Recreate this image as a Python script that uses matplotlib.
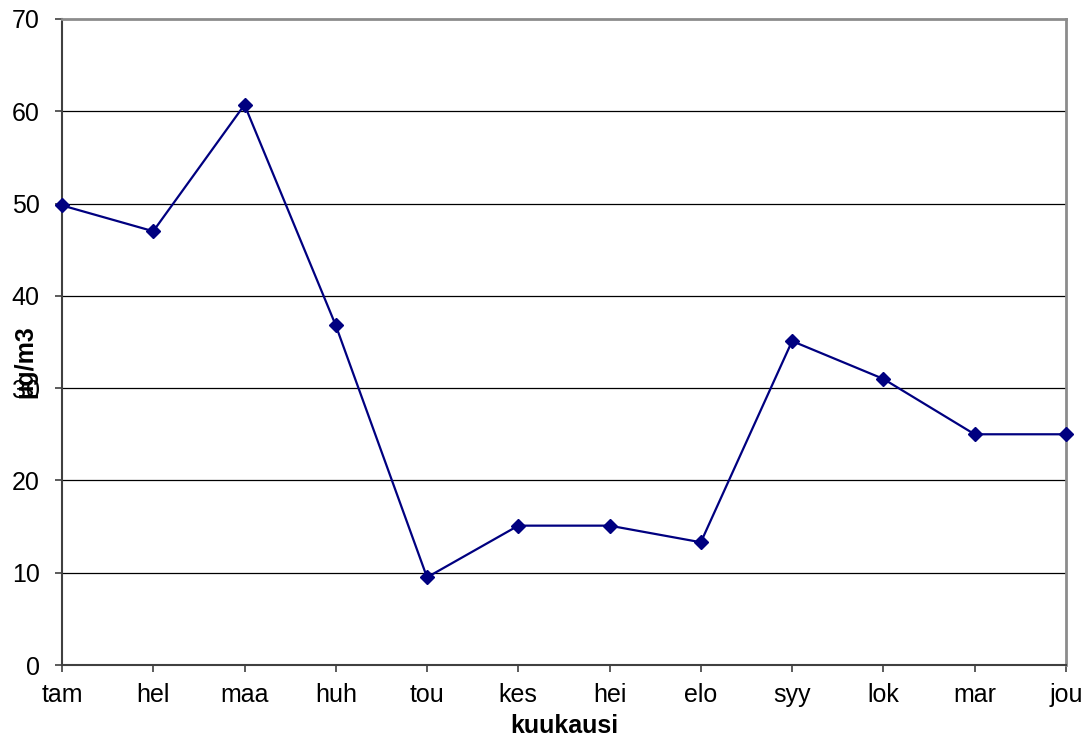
import matplotlib
matplotlib.use("Agg")
import matplotlib.pyplot as plt

months = ["tam", "hel", "maa", "huh", "tou", "kes", "hei", "elo", "syy", "lok", "mar", "jou"]
values = [49.8, 47.0, 60.7, 36.8, 9.5, 15.1, 15.1, 13.3, 35.1, 31.0, 25.0, 25.0]
yticks = [0, 10, 20, 30, 40, 50, 60, 70]

plt.rcParams['font.family'] = ['Liberation Sans', 'DejaVu Sans']

fig = plt.figure(figsize=(10.91, 7.38), dpi=100)
ax = fig.add_axes([0.0568, 0.0989, 0.9202, 0.8754])

x = list(range(len(months)))
ax.plot(x, values, color='#000080', lw=1.6, marker='D', markersize=7, zorder=3, clip_on=False)

ax.set_xlim(0, len(months) - 1)
ax.set_ylim(0, 70)
ax.set_xticks(x)
ax.set_xticklabels(months)
ax.set_yticks(yticks)
for yv in yticks[1:-1]:
    ax.axhline(yv, color='black', lw=0.9, zorder=1)

ax.tick_params(axis='both', labelsize=18, direction='out', length=5, width=1.2, color='#404040')
ax.tick_params(axis='y', pad=11)
ax.tick_params(axis='x', pad=8)
for s in ['left', 'bottom']:
    ax.spines[s].set_color('#404040')
    ax.spines[s].set_linewidth(1.5)
for s in ['top', 'right']:
    ax.spines[s].set_color('#8c8c8c')
    ax.spines[s].set_linewidth(2)

ax.set_xlabel('kuukausi', fontsize=18, fontweight='bold', labelpad=5)
ax.set_ylabel('µg/m3', fontsize=18, fontweight='bold')
ax.yaxis.set_label_coords(-0.024, 0.47)

fig.savefig('out.png', dpi=100)
